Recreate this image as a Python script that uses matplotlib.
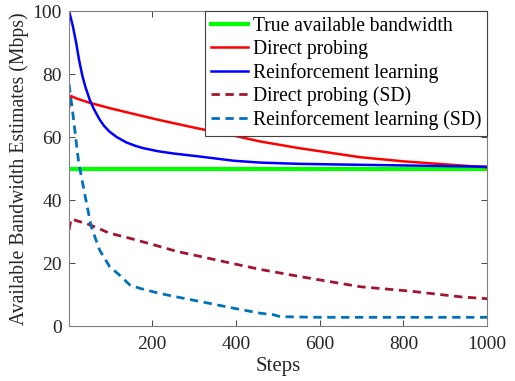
import numpy as np
import matplotlib
matplotlib.use("Agg")
import matplotlib.pyplot as plt

plt.rcParams["font.family"] = ["Liberation Serif", "DejaVu Serif"]
plt.rcParams["mathtext.fontset"] = "stix"

# values (step, Mbps)
true_steps = [1, 1000]
true_bw = [50, 50]

dp_steps = [1, 6, 20, 50, 98, 138, 214, 300, 400, 458, 550, 697, 800, 936, 1000]
dp_mean = [69.3, 73, 72.2, 70.9, 69.2, 67.9, 65.5, 63, 60.3, 58.6, 56.5, 53.6, 52.3, 51.0, 50.4]

rl_steps = [1, 10, 18, 25, 33, 40, 50, 60, 74, 85, 98, 115, 138, 160, 178, 214,
            250, 315, 394, 458, 550, 697, 800, 900, 1000]
rl_mean = [100, 95.3, 90, 84.5, 79.4, 76, 72, 69, 65.6, 63.5, 61.7, 60.0, 58.3, 57.2, 56.5, 55.5,
           54.8, 53.8, 52.5, 51.9, 51.5, 51.2, 51.0, 50.8, 50.6]

dp_sd_steps = [1, 6, 50, 98, 146, 217, 259, 315, 363, 458, 554, 697, 817, 936, 1000]
dp_sd = [30.6, 34, 32.2, 29.5, 27.9, 25.3, 23.7, 22.1, 20.7, 18.0, 15.7, 12.5, 11.1, 9.3, 8.7]

rl_sd_steps = [1, 10, 24, 38, 54, 74, 98, 126, 146, 170, 217, 257, 315, 394, 458, 490,
               506, 600, 700, 800, 900, 1000]
rl_sd = [76.8, 67.7, 52, 42.3, 31.6, 24.2, 18.9, 15.7, 13.1, 12.0, 10.4, 9.3, 7.8, 5.7, 4.1, 3.6,
         3.0, 2.8, 2.8, 2.8, 2.8, 2.8]

labels = ["True available bandwidth", "Direct probing", "Reinforcement learning",
          "Direct probing (SD)", "Reinforcement learning (SD)"]

fig = plt.figure(figsize=(5.15, 3.81), dpi=100)
ax = fig.add_axes([0.134, 0.144, 0.812, 0.827])

ax.plot(true_steps, true_bw, color="#00ff00", lw=3, label=labels[0])
ax.plot(dp_steps, dp_mean, color="#ff0000", lw=1.8, label=labels[1])
ax.plot(rl_steps, rl_mean, color="#0000ff", lw=1.8, label=labels[2])
ax.plot(dp_sd_steps, dp_sd, color="#a2142f", lw=2, ls=(0, (3, 2)), label=labels[3])
ax.plot(rl_sd_steps, rl_sd, color="#0072bd", lw=2, ls=(0, (3, 2)), label=labels[4])

ax.set_xlim(1, 1000)
ax.set_ylim(0, 100)
ax.set_xticks([200, 400, 600, 800, 1000])
ax.set_yticks([0, 20, 40, 60, 80, 100])
ax.tick_params(direction="in", top=True, right=True, labelsize=14, colors="#262626",
               length=4, width=0.6)
ax.tick_params(axis="x", pad=7)
ax.tick_params(axis="y", pad=5)
for s in ax.spines.values():
    s.set_color("#808080")
    s.set_linewidth(0.8)

ax.set_xlabel("Steps", fontsize=15, color="#262626", labelpad=3)
ax.set_ylabel("Available Bandwidth Estimates (Mbps)", fontsize=14.2, color="#262626", labelpad=3)

leg = ax.legend(loc="upper right", fontsize=14.1, fancybox=False, framealpha=1,
                edgecolor="#404040", borderaxespad=0, handlelength=1.9,
                labelspacing=0.2, borderpad=0.3, handletextpad=0.25)
leg.get_frame().set_linewidth(0.8)

fig.savefig("out.png", dpi=100)
